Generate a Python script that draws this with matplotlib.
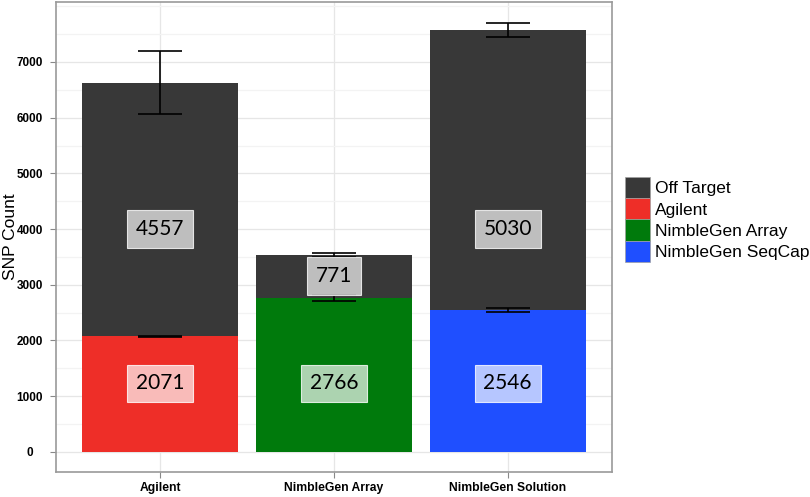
import matplotlib.pyplot as plt
from matplotlib.patches import Patch
from matplotlib.ticker import MultipleLocator

# dados
plataformas = ['Agilent', 'NimbleGen Array', 'NimbleGen Solution']
no_alvo = [2071, 2766, 2546]
fora_alvo = [4557, 771, 5030]
erro_alvo = [12, 50, 35]
erro_total = [570, 40, 125]
rotulo_baixo_y = [1230, 1230, 1230]
rotulo_alto_y = [4000, 3155, 4000]

legenda_nomes = ['Off Target', 'Agilent', 'NimbleGen Array', 'NimbleGen SeqCap']
cor_fora = '#383838'
cores_alvo = ['#ee2e28', '#007a0c', '#1f4fff']
legenda_cores = [cor_fora] + cores_alvo

plt.rcParams['font.family'] = ['Liberation Sans', 'DejaVu Sans']

fig = plt.figure(figsize=(8.1, 4.97), dpi=100)
ax = fig.add_axes([56 / 810, 25 / 497, 556 / 810, 470 / 497])

x = [1, 2, 3]
total = [a + b for a, b in zip(no_alvo, fora_alvo)]

ax.bar(x, no_alvo, width=0.9, color=cores_alvo, zorder=2)
ax.bar(x, fora_alvo, width=0.9, bottom=no_alvo, color=cor_fora, zorder=2)

# barras de erro
ax.errorbar(x, no_alvo, yerr=erro_alvo, fmt='none', ecolor='black',
            elinewidth=1.2, capsize=16, capthick=1.2, zorder=3)
ax.errorbar(x, total, yerr=erro_total, fmt='none', ecolor='black',
            elinewidth=1.2, capsize=16, capthick=1.2, zorder=3)

# rotulos com caixa clara
caixa = dict(boxstyle='square,pad=0.42', facecolor=(1, 1, 1, 0.68),
             edgecolor=(1, 1, 1, 0.8), linewidth=0.8)
for xi, v, yy in zip(x, no_alvo, rotulo_baixo_y):
    ax.text(xi, yy, str(v), ha='center', va='center', fontsize=15,
            family=['Lato', 'DejaVu Sans'], color='black', zorder=4, bbox=caixa)
for xi, v, yy in zip(x, fora_alvo, rotulo_alto_y):
    ax.text(xi, yy, str(v), ha='center', va='center', fontsize=15,
            family=['Lato', 'DejaVu Sans'], color='black', zorder=4, bbox=caixa)

ax.set_xlim(0.4, 3.6)
ax.set_ylim(-362, 8077)
ax.set_xticks(x)
ax.set_xticklabels(plataformas, fontsize=8.7, fontweight='bold')
ax.set_yticks(range(0, 8000, 1000))
ax.set_yticklabels([str(v) for v in range(0, 8000, 1000)], fontsize=8.5,
                   fontweight='bold', ha='center')
ax.yaxis.set_minor_locator(MultipleLocator(500))
ax.tick_params(axis='y', which='major', length=4, color='#888888', pad=15)
ax.tick_params(axis='y', which='minor', length=0)
ax.tick_params(axis='x', length=4, color='#888888', pad=3)

ax.set_axisbelow(True)
ax.grid(which='major', color='#e6e6e6', linewidth=0.9)
ax.grid(which='minor', axis='y', color='#f3f3f3', linewidth=0.9)
for lado in ax.spines.values():
    lado.set_color('#9a9a9a')
    lado.set_linewidth(1.2)

ax.set_ylabel('SNP Count', fontsize=12.5, va='center')
ax.yaxis.set_label_coords(-45 / 556, 0.5)

alcas = [Patch(facecolor=c, edgecolor='#a0a0a0', linewidth=0.5) for c in legenda_cores]
fig.legend(alcas, legenda_nomes, loc='upper left',
           bbox_to_anchor=(625 / 810, 1 - 177 / 497), frameon=False,
           fontsize=12.5, handlelength=1.44, handleheight=1.5,
           labelspacing=0, handletextpad=0.3, borderpad=0, borderaxespad=0)

fig.savefig('out.png', dpi=100)
